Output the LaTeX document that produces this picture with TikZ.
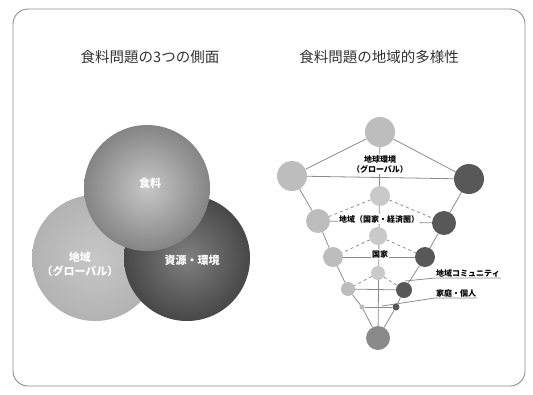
\documentclass[tikz,border=0pt]{standalone}
\usepackage{fontspec}
\newfontfamily\jp{Noto Sans CJK JP}
\usetikzlibrary{backgrounds}
\definecolor{lineg}{HTML}{8C8C8C}
\definecolor{lightc}{HTML}{BDBDBD}
\definecolor{midc}{HTML}{C9C9C9}
\definecolor{darkc}{HTML}{585858}
\definecolor{botc}{HTML}{8A8A8A}
\begin{document}
\begin{tikzpicture}[x=1pt,y=-1pt,
  venn/.style={circle,minimum size=126pt,inner sep=0pt},
  vlabel/.style={text=white,font=\jp\bfseries\fontsize{11}{14}\selectfont,align=center},
  title/.style={text=black!80,font=\jp\fontsize{14.5}{16}\selectfont},
  dot/.style={circle,inner sep=0pt,minimum size=#1},
  ln/.style={draw=lineg,line width=0.8pt},
  dln/.style={ln,dash pattern=on 3pt off 3pt},
  lab/.style={font=\jp\bfseries\fontsize{8}{10}\selectfont,fill=white,inner sep=1pt,align=center},
  sidelab/.style={font=\jp\bfseries\fontsize{8}{10}\selectfont,inner sep=1pt}]
\useasboundingbox (0,0) rectangle (533,394);

% titles
\node[title] (t1) at (150,57) {食料問題の3つの側面};
\node[title] (t2) at (379,57) {食料問題の地域的多様性};

% Venn circles
\node[venn,inner color=black!22,outer color=black!30] (vl) at (95,258) {};
\node[venn,inner color=black!50,outer color=black!72] (vr) at (187,258) {};
\node[venn,inner color=black!22,outer color=black!48] (vt) at (147,188) {};
\node[vlabel] (lt) at (150,183) {食料};
\node[vlabel] (ll) at (80,264) {地域\\（グローバル）};
\node[vlabel] (lr) at (192,260) {資源・環境};

% right diagram nodes
\node[dot=30pt,fill=lightc] (top) at (380,132) {};
\node[dot=30pt,fill=lightc] (L1) at (292,176) {};
\node[dot=30pt,fill=darkc] (R1) at (469,179) {};
\node[dot=20pt,fill=midc] (C2) at (380,196) {};
\node[dot=24pt,fill=lightc] (L2) at (318,221) {};
\node[dot=24pt,fill=darkc] (R2) at (444,223) {};
\node[dot=18pt,fill=midc] (C3) at (378,236) {};
\node[dot=20pt,fill=lightc] (L3) at (333,257) {};
\node[dot=20pt,fill=darkc] (R3) at (425,257) {};
\node[dot=14pt,fill=midc] (C4) at (378,273) {};
\node[dot=14pt,fill=lightc] (L4) at (348,289) {};
\node[dot=16pt,fill=darkc] (R4) at (404,290) {};
\node[dot=5pt,fill=lightc] (L5) at (362,307) {};
\node[dot=7pt,fill=darkc] (R5) at (396,307) {};
\node[dot=24pt,fill=botc] (bot) at (378,338) {};

% labels
\node[lab] (g1) at (380,164) {地球環境\\（グローバル）};
\node[lab] (g2) at (379,219) {地域（国家・経済圏）};
\node[lab] (g3) at (380,254) {国家};
\node[sidelab] (g4) at (468,273) {地域コミュニティ};
\node[sidelab] (g5) at (456,293) {家庭・個人};
\coordinate (e4) at (405,281);
\coordinate (e5) at (382,306);

\begin{pgfonlayer}{background}
\fill[white] (0,0) rectangle (533,394);
\draw[draw=black!45,line width=0.9pt,rounded corners=15pt] (13,9) rectangle (525,386);
\draw[ln] (top.center) -- (bot.center);
\draw[ln] (top) -- (L1);
\draw[ln] (top) -- (R1);
\draw[ln] (L1) -- (R1);
\draw[ln] (L1) -- (L2) -- (L3) -- (L4) -- (L5) -- (bot);
\draw[ln] (R1) -- (R2) -- (R3) -- (R4) -- (R5) -- (bot);
\draw[ln] (L2) -- (R2);
\draw[ln] (L3) -- (R3);
\draw[ln] (L4) -- (R4);
\draw[ln] (L5) -- (R5);
\draw[dln] (C2) -- (L2);
\draw[dln] (C2) -- (R2);
\draw[dln] (C3) -- (L3);
\draw[dln] (C3) -- (R3);
\draw[dln] (C4) -- (L4);
\draw[dln] (C4) -- (R4);
\draw[ln] (g4.south east) -- (g4.south west) -- (e4);
\draw[ln] (g5.south east) -- (g5.south west) -- (e5);
\end{pgfonlayer}
\end{tikzpicture}
\end{document}
